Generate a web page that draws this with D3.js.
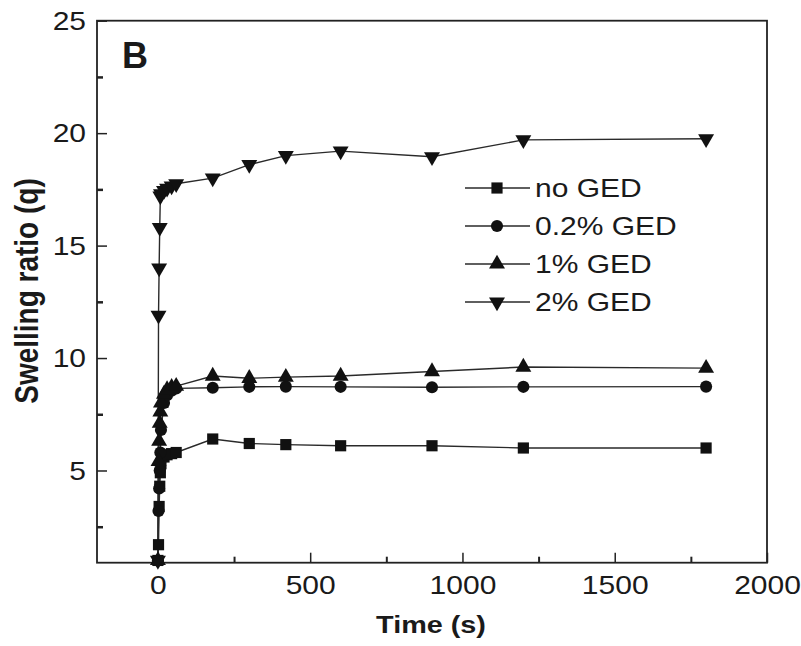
<!DOCTYPE html>
<html>
<head>
<meta charset="utf-8">
<script src="https://cdn.jsdelivr.net/npm/d3@7"></script>
<style>
  body { margin: 0; background: #fff; }
  text { font-family: "Liberation Sans", Arial, sans-serif; fill: #1a1a1a; }
</style>
</head>
<body>
<script>
// time points (s)
var times = [0, 2, 4, 6, 8, 10, 20, 30, 45, 60, 180, 300, 420, 600, 900, 1200, 1800];

// swelling ratio q for each GED content
var noGED  = [1.0, 1.7, 3.4, 4.3, 4.9, 5.3, 5.6, 5.7, 5.75, 5.8, 6.4, 6.2, 6.15, 6.1, 6.1, 6.0, 6.0];
var ged02  = [1.0, 3.2, 4.2, 5.0, 5.8, 6.8, 8.0, 8.35, 8.55, 8.65, 8.68, 8.72, 8.73, 8.72, 8.7, 8.72, 8.73];
var ged1   = [1.0, 5.4, 6.3, 7.1, 7.6, 8.0, 8.4, 8.6, 8.7, 8.75, 9.2, 9.1, 9.15, 9.2, 9.4, 9.6, 9.55];
var ged2   = [1.0, 11.9, 14.0, 15.8, 17.2, 17.3, 17.45, 17.55, 17.65, 17.75, 18.0, 18.6, 19.0, 19.2, 18.95, 19.7, 19.75];

var seriesNames = ["no GED", "0.2% GED", "1% GED", "2% GED"];
var seriesValues = [noGED, ged02, ged1, ged2];

var xMajor = [0, 500, 1000, 1500, 2000];
var xMinor = [250, 750, 1250, 1750];
var yMajor = [5, 10, 15, 20, 25];
var yMinor = [2.5, 7.5, 12.5, 17.5, 22.5];

(function() {
    var width = 801, height = 646;
    var pLeft = 97, pRight = 767, pTop = 20.7, pBottom = 562.7;
    var sx = 1.2; // glyphs in the figure are drawn a bit wide

    var x = d3.scaleLinear().domain([-200, 2000]).range([pLeft, pRight]);
    var y = d3.scaleLinear().domain([0.9, 25]).range([pBottom, pTop]);

    var svg = d3.select("body").append("svg")
        .attr("width", width)
        .attr("height", height);

    // symbols per series
    var shapes = [
        {type: d3.symbolSquare, size: 125, rot: 0},
        {type: d3.symbolCircle, size: 115, rot: 0},
        {type: d3.symbolTriangle, size: 110, rot: 0},
        {type: d3.symbolTriangle, size: 110, rot: 180}
    ];

    function marker(sel, i) {
        sel.append("path")
            .attr("d", d3.symbol().type(shapes[i].type).size(shapes[i].size))
            .attr("fill", "#111");
    }

    // axes, ticks inward
    var xAxis = svg.append("g")
        .attr("transform", "translate(0," + pBottom + ")")
        .call(d3.axisBottom(x).tickValues(xMajor).tickSize(-10).tickPadding(0).tickFormat(d3.format("d")));
    xAxis.select(".domain").remove();
    xAxis.selectAll(".tick line").attr("stroke", "#222").attr("stroke-width", 1.5);
    xAxis.selectAll(".tick text")
        .attr("y", 31)
        .attr("dy", 0)
        .attr("transform", "scale(" + sx + ",1)")
        .style("font-size", "25px");

    svg.append("g")
        .attr("transform", "translate(0," + pBottom + ")")
        .call(d3.axisBottom(x).tickValues(xMinor).tickSize(-6).tickFormat(""))
        .call(function(g) { g.select(".domain").remove(); })
        .selectAll(".tick line").attr("stroke", "#222").attr("stroke-width", 2);

    var yAxis = svg.append("g")
        .attr("transform", "translate(" + pLeft + ",0)")
        .call(d3.axisLeft(y).tickValues(yMajor).tickSize(-10).tickPadding(0).tickFormat(d3.format("d")));
    yAxis.select(".domain").remove();
    yAxis.selectAll(".tick line").attr("stroke", "#222").attr("stroke-width", 1.5);
    yAxis.selectAll(".tick text")
        .attr("x", -11 / sx)
        .attr("dy", "0.35em")
        .attr("transform", "scale(" + sx + ",1)")
        .style("font-size", "25px");

    svg.append("g")
        .attr("transform", "translate(" + pLeft + ",0)")
        .call(d3.axisLeft(y).tickValues(yMinor).tickSize(-6).tickFormat(""))
        .call(function(g) { g.select(".domain").remove(); })
        .selectAll(".tick line").attr("stroke", "#222").attr("stroke-width", 2.5);

    // frame
    svg.append("rect")
        .attr("x", pLeft).attr("y", pTop)
        .attr("width", pRight - pLeft).attr("height", pBottom - pTop)
        .attr("fill", "none").attr("stroke", "#222").attr("stroke-width", 1.8);

    // series
    var line = d3.line()
        .x(function(d) { return x(d.t); })
        .y(function(d) { return y(d.q); });

    seriesValues.forEach(function(vals, i) {
        var pts = times.map(function(t, j) { return {t: t, q: vals[j]}; });
        svg.append("path")
            .datum(pts)
            .attr("d", line)
            .attr("fill", "none")
            .attr("stroke", "#2a2a2a")
            .attr("stroke-width", 1.4);
    });

    seriesValues.forEach(function(vals, i) {
        times.forEach(function(t, j) {
            var g = svg.append("g")
                .attr("transform", "translate(" + x(t) + "," + y(vals[j]) + ") rotate(" + shapes[i].rot + ")");
            marker(g, i);
        });
    });

    // legend
    var legend = svg.append("g").attr("transform", "translate(465,188)");
    seriesNames.forEach(function(name, i) {
        var row = legend.append("g").attr("transform", "translate(0," + (i * 38) + ")");
        row.append("line")
            .attr("x1", 0).attr("x2", 65)
            .attr("stroke", "#2a2a2a").attr("stroke-width", 1.4);
        var m = row.append("g").attr("transform", "translate(32,0) rotate(" + shapes[i].rot + ")");
        marker(m, i);
        row.append("text")
            .attr("transform", "translate(70,0) scale(" + sx + ",1)")
            .attr("dy", "0.35em")
            .style("font-size", "25px")
            .text(name);
    });

    // panel label
    svg.append("text")
        .attr("x", 122).attr("y", 68)
        .style("font-size", "36px")
        .style("font-weight", "bold")
        .text("B");

    // axis titles
    svg.append("text")
        .attr("transform", "translate(431,633) scale(" + sx + ",1)")
        .attr("text-anchor", "middle")
        .style("font-size", "24px")
        .style("font-weight", "bold")
        .text("Time (s)");

    svg.append("text")
        .attr("transform", "translate(38,291) scale(" + sx + ",1) rotate(-90)")
        .attr("text-anchor", "middle")
        .style("font-size", "28px")
        .style("font-weight", "bold")
        .text("Swelling ratio (q)");
}());
</script>
</body>
</html>
